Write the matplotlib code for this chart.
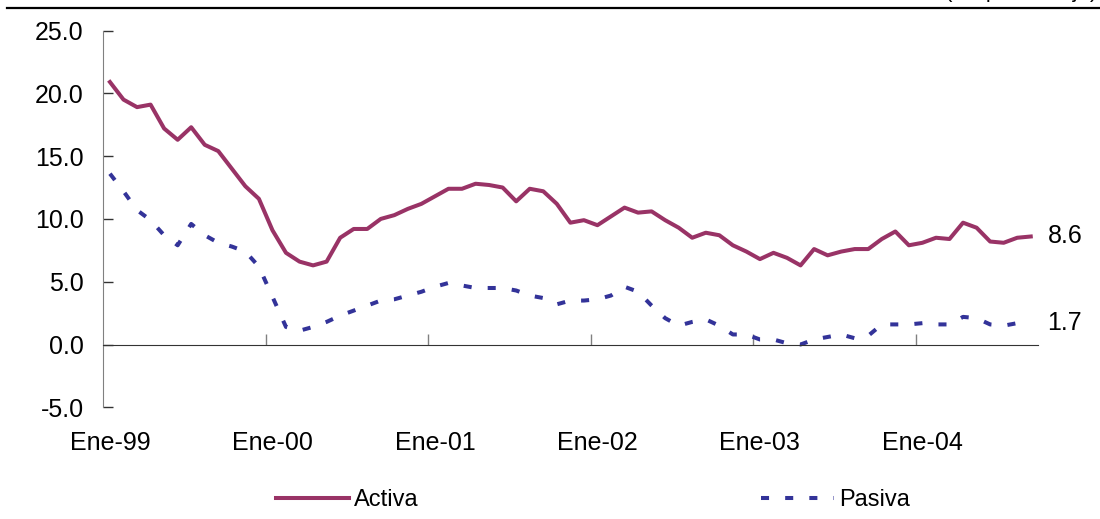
import matplotlib
matplotlib.use('Agg')
import matplotlib.pyplot as plt
import numpy as np

plt.rcParams['font.family'] = ['Liberation Sans', 'DejaVu Sans']

# tasas mensuales, ene-1999 a sep-2004
meses = ['Ene-99', 'Ene-00', 'Ene-01', 'Ene-02', 'Ene-03', 'Ene-04']
activa = [20.9, 19.5, 18.9, 19.1, 17.2, 16.3, 17.3, 15.9, 15.4, 14.0, 12.6, 11.6,
          9.1, 7.3, 6.6, 6.3, 6.6, 8.5, 9.2, 9.2, 10.0, 10.3, 10.8, 11.2,
          11.8, 12.4, 12.4, 12.8, 12.7, 12.5, 11.4, 12.4, 12.2, 11.2, 9.7, 9.9,
          9.5, 10.2, 10.9, 10.5, 10.6, 9.9, 9.3, 8.5, 8.9, 8.7, 7.9, 7.4,
          6.8, 7.3, 6.9, 6.3, 7.6, 7.1, 7.4, 7.6, 7.6, 8.4, 9.0, 7.9,
          8.1, 8.5, 8.4, 9.7, 9.3, 8.2, 8.1, 8.5, 8.6]
pasiva = [13.6, 12.2, 10.7, 9.9, 8.7, 7.9, 9.6, 8.7, 8.1, 7.8, 7.4, 6.2,
          3.8, 1.4, 1.1, 1.4, 1.8, 2.3, 2.7, 3.1, 3.5, 3.6, 3.9, 4.2,
          4.6, 4.9, 4.7, 4.5, 4.5, 4.5, 4.3, 3.9, 3.7, 3.2, 3.5, 3.5,
          3.6, 3.9, 4.6, 4.2, 3.1, 2.1, 1.5, 1.8, 2.0, 1.5, 0.8, 0.8,
          0.4, 0.4, 0.1, 0.0, 0.4, 0.6, 0.8, 0.5, 0.7, 1.6, 1.6, 1.6,
          1.7, 1.6, 1.6, 2.2, 2.1, 1.6, 1.5, 1.7, 1.7]

x = np.arange(len(activa))

fig = plt.figure(figsize=(11, 5.19), dpi=100)
ax = fig.add_axes([0.0938, 0.2152, 0.8494, 0.726])

ax.plot(x, activa, color='#993366', lw=2.9, label='Activa')
ax.plot(x, pasiva, color='#333399', lw=2.9, linestyle=(0, (2, 4)),
        dash_capstyle='butt', label='Pasiva')

ax.set_xlim(-0.5, len(activa) - 0.5)
ax.set_ylim(-5, 25)
yt = np.arange(-5, 26, 5)
ax.set_yticks(yt)
ax.set_yticklabels([f'{v:.1f}' for v in yt])

for s in ['top', 'right']:
    ax.spines[s].set_visible(False)
ax.spines['bottom'].set_position(('data', 0))
ax.spines['bottom'].set_color('#333333')
ax.spines['left'].set_color('#808080')

ax.tick_params(axis='y', direction='in', length=7, width=1, color='#333333',
               pad=14, labelsize=18)

# marcas entre categorias, etiquetas en cada enero
ax.set_xticks(np.arange(11.5, len(activa), 12))
ax.set_xticks(np.arange(0, len(activa), 12), minor=True)
ax.set_xticklabels(meses, minor=True)
ax.tick_params(axis='x', which='major', direction='in', length=8, width=1,
               color='#808080', labelbottom=False)
ax.tick_params(axis='x', which='minor', length=0, pad=62, labelsize=18)

for serie in (activa, pasiva):
    ax.annotate(f'{serie[-1]:.1f}', (x[-1], serie[-1]), xytext=(12, 0),
                textcoords='offset points', va='center', ha='left',
                fontsize=18, annotation_clip=False)

fig.legend(loc='center', bbox_to_anchor=(0.539, 0.037), ncol=2, frameon=False,
           handlelength=3.1, handletextpad=0.2, columnspacing=14.5, fontsize=17)

# linea del encabezado; el titulo de unidades queda recortado arriba
fig.add_artist(plt.Line2D([0.0064, 1], [0.985, 0.985], color='black', lw=1.6,
                          transform=fig.transFigure))
fig.text(0.998, 1.005, '(En porcentaje)', ha='right', va='baseline', fontsize=16)

fig.savefig('out.png', dpi=100)
